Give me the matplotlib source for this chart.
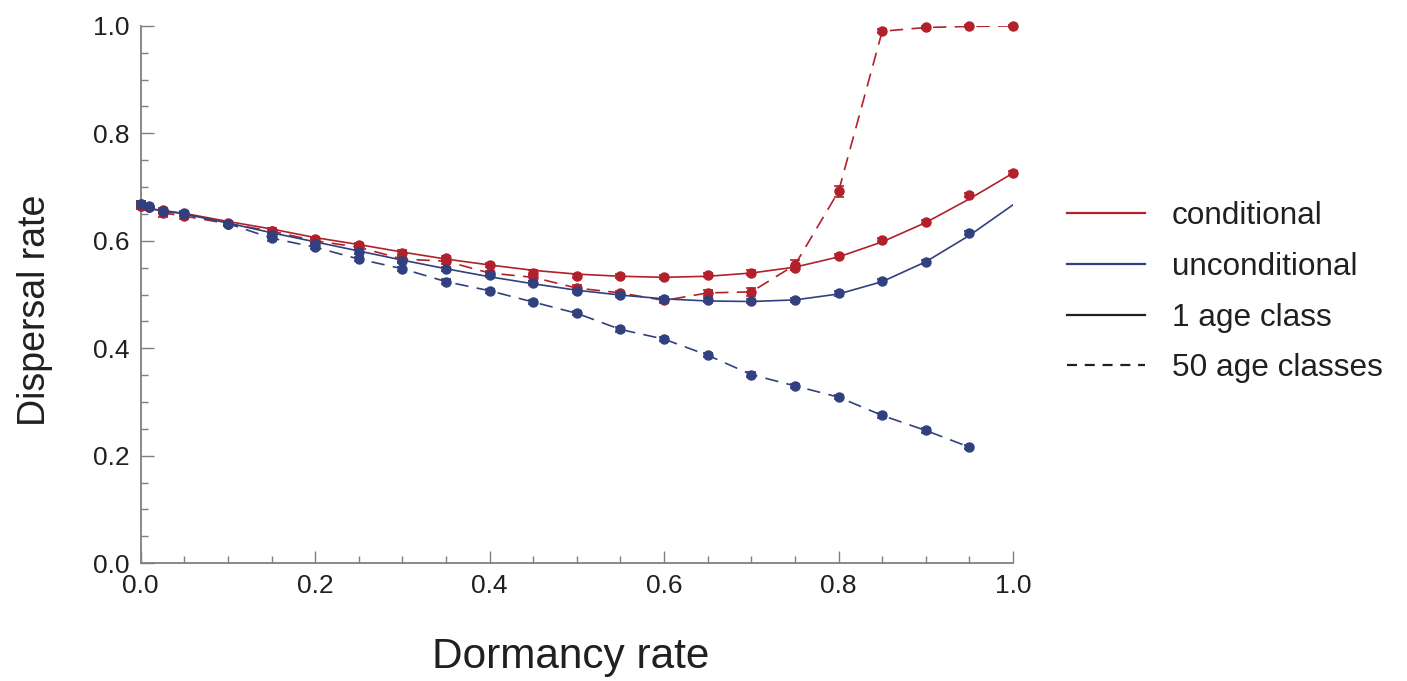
import matplotlib
matplotlib.use("Agg")
import matplotlib.pyplot as plt
from matplotlib.lines import Line2D
from matplotlib.ticker import MultipleLocator

plt.rcParams['font.family'] = ['Liberation Sans', 'DejaVu Sans']

RED = '#b2202b'
BLUE = '#31407f'

# dormancy rates of the simulation runs
dorm = [0.0, 0.01, 0.025, 0.05, 0.1, 0.15, 0.2, 0.25, 0.3, 0.35, 0.4, 0.45,
        0.5, 0.55, 0.6, 0.65, 0.7, 0.75, 0.8, 0.85, 0.9, 0.95, 1.0]

# simulated dispersal rates, 1 age class
cond_1 = [0.665, 0.663, 0.657, 0.650, 0.633, 0.619, 0.603, 0.592, 0.578, 0.568, 0.555, 0.540,
          0.534, 0.534, 0.533, 0.536, 0.541, 0.549, 0.572, 0.601, 0.635, 0.685, 0.726]
uncond_1 = [0.668, 0.664, 0.655, 0.652, 0.631, 0.610, 0.594, 0.580, 0.562, 0.548, 0.536, 0.522,
            0.506, 0.499, 0.491, 0.490, 0.488, 0.490, 0.502, 0.525, 0.561, 0.614]

# simulated dispersal rates, 50 age classes
cond_50 = [0.665, 0.662, 0.652, 0.646, 0.632, 0.618, 0.600, 0.588, 0.566, 0.562, 0.540, 0.532,
           0.512, 0.503, 0.489, 0.503, 0.505, 0.555, 0.692, 0.990, 0.997, 0.999, 1.0]
uncond_50 = [0.668, 0.663, 0.655, 0.650, 0.632, 0.605, 0.588, 0.566, 0.548, 0.524, 0.507, 0.486,
             0.465, 0.435, 0.417, 0.387, 0.351, 0.330, 0.309, 0.275, 0.247, 0.216]

# error bars (half widths)
cond_1_err = [0.006, 0.004, 0.004, 0.004, 0.004, 0.004, 0.004, 0.004, 0.004, 0.004, 0.004, 0.006,
              0.004, 0.004, 0.004, 0.004, 0.004, 0.004, 0.004, 0.004, 0.004, 0.004, 0.003]
uncond_1_err = [0.006, 0.004, 0.004, 0.004, 0.004, 0.004, 0.004, 0.004, 0.004, 0.004, 0.004, 0.004,
                0.004, 0.004, 0.004, 0.004, 0.004, 0.004, 0.004, 0.004, 0.004, 0.004]
cond_50_err = [0.006, 0.004, 0.008, 0.006, 0.004, 0.004, 0.004, 0.004, 0.006, 0.006, 0.004, 0.006,
               0.005, 0.004, 0.004, 0.006, 0.007, 0.009, 0.010, 0.004, 0.003, 0.002, 0.002]
uncond_50_err = [0.006, 0.004, 0.004, 0.004, 0.004, 0.006, 0.004, 0.004, 0.004, 0.004, 0.004, 0.004,
                 0.004, 0.004, 0.004, 0.004, 0.004, 0.004, 0.004, 0.004, 0.004, 0.004]

# analytical curves for 1 age class
theory_x = [0.0, 0.05, 0.1, 0.15, 0.2, 0.25, 0.3, 0.35, 0.4, 0.45, 0.5,
            0.55, 0.6, 0.65, 0.7, 0.75, 0.8, 0.85, 0.9, 0.95, 1.0]
cond_theory = [0.662, 0.651, 0.636, 0.622, 0.606, 0.593, 0.579, 0.566, 0.555, 0.545, 0.538,
               0.534, 0.532, 0.534, 0.540, 0.551, 0.570, 0.598, 0.634, 0.678, 0.726]
uncond_theory = [0.662, 0.650, 0.633, 0.615, 0.598, 0.581, 0.564, 0.548, 0.533, 0.520, 0.508,
                 0.499, 0.492, 0.488, 0.487, 0.490, 0.501, 0.524, 0.561, 0.610, 0.667]

fig = plt.figure(figsize=(14.07, 6.81), dpi=100)
ax = fig.add_axes([0.1, 0.173, 0.62, 0.789])

lw = 1.2
dash = (8, 5)

ax.plot(dorm[:len(cond_50)], cond_50, color=RED, lw=lw, dashes=dash, zorder=2)
ax.plot(dorm[:len(uncond_50)], uncond_50, color=BLUE, lw=lw, dashes=dash, zorder=2)
ax.plot(theory_x, cond_theory, color=RED, lw=lw, zorder=2)
ax.plot(theory_x, uncond_theory, color=BLUE, lw=lw, zorder=2)

for xs, ys, err, c in [(dorm, cond_50, cond_50_err, RED),
                       (dorm, cond_1, cond_1_err, RED),
                       (dorm[:len(uncond_50)], uncond_50, uncond_50_err, BLUE),
                       (dorm[:len(uncond_1)], uncond_1, uncond_1_err, BLUE)]:
    eb = ax.errorbar(xs, ys, yerr=err, fmt='o', color=c, ms=6.5, capsize=3.5,
                     elinewidth=1.2, capthick=1.2, zorder=3)
    for art in eb.lines[0:1] + tuple(eb.lines[1]) + tuple(eb.lines[2]):
        art.set_clip_on(False)

ax.set_xlim(0, 1)
ax.set_ylim(0, 1)
ax.xaxis.set_major_locator(MultipleLocator(0.2))
ax.xaxis.set_minor_locator(MultipleLocator(0.05))
ax.yaxis.set_major_locator(MultipleLocator(0.2))
ax.yaxis.set_minor_locator(MultipleLocator(0.05))
ax.xaxis.set_major_formatter(lambda v, p: f'{v:.1f}')
ax.yaxis.set_major_formatter(lambda v, p: f'{v:.1f}')

for s in ['top', 'right']:
    ax.spines[s].set_visible(False)
for s in ['left', 'bottom']:
    ax.spines[s].set_color('#7f7f7f')
    ax.spines[s].set_linewidth(1.3)

ax.tick_params(which='both', direction='in', color='#7f7f7f', width=1.0, labelcolor='#231f20')
ax.tick_params(which='major', length=9, labelsize=19, pad=8)
ax.tick_params(which='minor', length=5)

ax.set_xlabel('Dormancy rate', fontsize=30.5, color='#231f20')
ax.set_ylabel('Dispersal rate', fontsize=27, color='#231f20')
ax.xaxis.set_label_coords(0.493, -0.138)
ax.yaxis.set_label_coords(-0.100, 0.471)

handles = [Line2D([], [], color=RED, lw=1.6),
           Line2D([], [], color=BLUE, lw=1.6),
           Line2D([], [], color='#231f20', lw=1.6),
           Line2D([], [], color='#231f20', lw=1.6, dashes=(4.5, 3.5))]
labels = ['conditional', 'unconditional', '1 age class', '50 age classes']
fig.legend(handles, labels, loc='center left', bbox_to_anchor=(0.738, 0.571),
           frameon=False, fontsize=22.7, handlelength=2.48, handletextpad=0.85,
           labelspacing=0.66, labelcolor='#231f20')

fig.savefig('out.png', dpi=100)
